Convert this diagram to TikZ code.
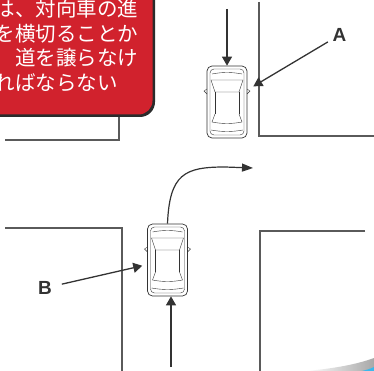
\documentclass[tikz,border=0pt]{standalone}
\usepackage{fontspec}
\setsansfont{Liberation Sans}
\newfontfamily\jpfont{Noto Sans CJK JP}
\usepackage{xcolor}
\usetikzlibrary{arrows.meta,positioning,calc}
\definecolor{rojo}{HTML}{D1222D}
\definecolor{sombra}{HTML}{2B2B2B}
\definecolor{gris}{HTML}{5A5A5A}
\definecolor{grisoscuro}{HTML}{333333}
\definecolor{grisclaro}{HTML}{A8A8A8}
\definecolor{celeste}{HTML}{3CB8EC}
\tikzset{
  bordillo/.style={draw=gris,line width=1.4pt},
  flecha/.style={-{Triangle[length=9pt,width=10pt]},line width=1.3pt,grisoscuro},
  flechac/.style={-{Triangle[length=11pt,width=8pt]},line width=1.2pt,grisoscuro},
  letra/.style={font=\sffamily\bfseries\fontsize{19}{19}\selectfont,text=grisoscuro,inner sep=2pt},
  linea/.style={font=\jpfont\fontsize{20.5}{24.5}\selectfont,text=white,anchor=base west,inner sep=0pt},
  cuerpo/.style={draw=grisoscuro,line width=0.7pt,fill=white,rounded corners=5pt,minimum width=40pt,minimum height=72pt,inner sep=0pt},
  coche/.pic={
    \node[cuerpo] (-body) at (0,0) {};
    \begin{scope}[grisoscuro,line width=0.4pt]
      \draw[rounded corners=4pt] (-17,-33) rectangle (17,33);
      \draw (-15,-28) .. controls (-5,-30) and (5,-30) .. (15,-28);
      \draw (-16,-22) -- (16,-22) -- (12,-10) -- (-12,-10) -- cycle;
      \draw (-12,-10) -- (-12,12) (12,-10) -- (12,12);
      \draw (-12,12) -- (-15,20) .. controls (-5,22) and (5,22) .. (15,20) -- (12,12);
      \draw (-16,28) .. controls (-5,30) and (5,30) .. (16,28);
      \draw (-20,-13) -- (-23,-11) -- (-20,-8) (20,-13) -- (23,-11) -- (20,-8);
    \end{scope}
  },
}

\begin{document}
\begin{tikzpicture}[x=1pt,y=-1pt]
  \useasboundingbox (0,0) rectangle (374,371);
  \clip (0,0) rectangle (374,371);
  % esquinas de las manzanas
  \draw[bordillo] (5,140) -- (119,140) -- (119,100);
  \draw[bordillo] (259,2) -- (259,136) -- (374,136);
  \draw[bordillo] (5,228) -- (122,228) -- (122,371);
  \draw[bordillo] (365,231) -- (260,231) -- (260,371);
  % cartel rojo
  \fill[sombra,rounded corners=15pt] (-20,-20) rectangle (155,117);
  \fill[rojo,rounded corners=14pt] (-20,-20) rectangle (152.5,114.5);
  \node[linea] (l1) at (-5.5,16.8) {は、対向車の進};
  \node[linea] (l2) at (-5.5,41.3) {を横切ることか};
  \node[linea] (l3) at (-5.5,65.8) {　道を譲らなけ};
  \node[linea] (l4) at (-5.5,90.3) {ればならない};
  % coches
  \pic (cocheA) at (227,102) {coche};
  \pic (cocheB) at (167.5,260) {coche};
  \coordinate (entradaA) at (227,9);
  \coordinate (entradaB) at (171,367);
  \coordinate (giro) at (253,168);
  \node[letra] (A) at (339.5,35) {A};
  \node[letra] (B) at (45,288) {B};
  \draw[flecha] (entradaA) -- (cocheA-body);
  \draw[flecha] (entradaB) -- (entradaB |- cocheB-body.south);
  \draw[flecha,shorten <=3pt,shorten >=7pt] (A) -- (cocheA-body);
  \draw[flecha,shorten <=8pt,shorten >=5pt] (B) -- (cocheB-body);
  \draw[flechac] (cocheB-body.north) .. controls +(2,-50) and +(-40,0) .. (225,167) -- (giro);
  % adorno de la esquina
  \shade[left color=white,right color=grisclaro] (305,371) .. controls (330,369) and (355,365) .. (374,358) -- (374,371) -- cycle;
  \fill[celeste] (362,371) .. controls (366,370) and (370,369) .. (374,367) -- (374,371) -- cycle;
\end{tikzpicture}
\end{document}
